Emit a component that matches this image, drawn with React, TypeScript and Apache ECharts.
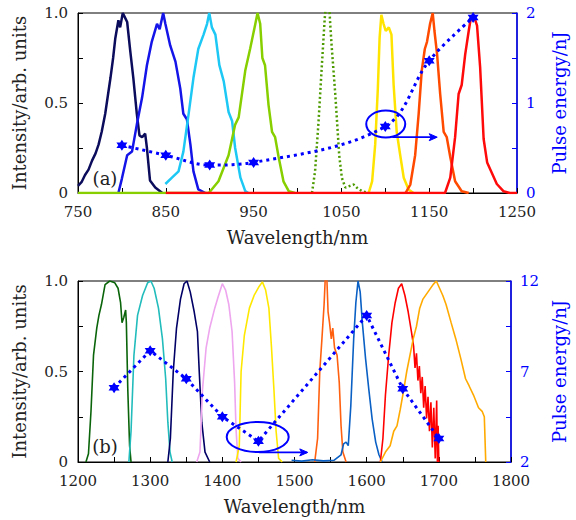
import React, { useEffect, useRef } from "react";
import * as echarts from "echarts";

// ---------- Panel (a) data ----------
const pulseWavelengthA = [800, 850, 900, 950, 1100, 1150, 1200];
const pulseEnergyA = [0.53, 0.42, 0.31, 0.34, 0.74, 1.47, 1.95];

const spec800 = [
  [750, 0.04], [754, 0.06], [758, 0.1], [762, 0.13], [766, 0.18], [770, 0.22], [773.5, 0.27], [777, 0.34],
  [781, 0.44], [784, 0.54], [787, 0.64], [790, 0.75], [792.5, 0.86], [796, 0.96], [798, 0.92],
  [801, 1.0], [803, 0.98], [806, 0.95], [809.5, 0.79], [813, 0.64], [817, 0.44], [820, 0.32],
  [823, 0.31], [826.5, 0.33], [828.5, 0.25], [832, 0.07], [838, 0.03], [846, 0],
];
const spec850 = [
  [796, 0], [800, 0.08], [806, 0.21], [811.5, 0.23], [817, 0.38], [823, 0.53], [828.5, 0.71],
  [834, 0.84], [840, 0.94], [843, 0.91], [847, 1.0], [849.5, 0.94], [855, 0.82], [861, 0.73],
  [866.5, 0.58], [870, 0.44], [874, 0.41], [878, 0.27], [881.5, 0.12], [887, 0.02], [895, 0],
];
const spec900 = [
  [849.5, 0.05], [857, 0.085], [864.5, 0.12], [870, 0.23], [876, 0.44], [881.5, 0.64], [887, 0.8],
  [893, 0.88], [897, 0.94], [899.5, 1.0], [902.5, 0.92], [906.5, 0.88], [911, 0.71], [916, 0.62],
  [921.5, 0.45], [925.5, 0.4], [929, 0.25], [935, 0.085], [940.5, 0.01], [944, 0],
];
const spec950 = [
  [750, 0], [899, 0], [910, 0.065], [921.5, 0.21], [929, 0.38], [933, 0.42], [940.5, 0.68],
  [946, 0.8], [952, 0.94], [954.5, 1.0], [957.5, 0.94], [960, 0.75], [963, 0.71], [967, 0.49],
  [971, 0.34], [974.5, 0.31], [978.5, 0.2], [984, 0.065], [990, 0.01], [997, 0],
];
const spec1035 = [
  [1016.5, 0], [1020, 0.12], [1024, 0.4], [1028, 0.73], [1031, 0.97], [1032.5, 1.05], [1034, 1.1],
  [1036, 1.05], [1037.5, 0.92], [1039, 0.81], [1041, 0.68], [1043, 0.55], [1045, 0.4], [1047.5, 0.21],
  [1050.5, 0.085], [1054.5, 0.03], [1060, 0.04], [1064, 0.047], [1067.5, 0.03], [1073.5, 0.01], [1081, 0],
];
const spec1100 = [
  [1081, 0], [1085, 0.065], [1088.5, 0.27], [1091.5, 0.58], [1093.5, 0.86], [1095.5, 0.99], [1098, 0.94],
  [1100.5, 0.9], [1104, 0.92], [1107, 0.88], [1109.5, 0.6], [1113, 0.34], [1117, 0.21], [1121, 0.085],
  [1126.5, 0.02], [1132, 0],
];
const spec1150 = [
  [1123, 0], [1128.5, 0.047], [1134, 0.21], [1138, 0.44], [1141.5, 0.68], [1145, 0.8], [1147.5, 0.84],
  [1151, 0.94], [1154, 1.0], [1156, 0.9], [1159, 0.77], [1162.5, 0.55], [1166.5, 0.34], [1170, 0.31],
  [1174, 0.2], [1179.5, 0.065], [1187, 0.01], [1195, 0],
];
const spec1200 = [
  [850, 0], [1168, 0], [1174, 0.085], [1179.5, 0.31], [1183.5, 0.55], [1187, 0.6], [1191, 0.77],
  [1195, 0.9], [1197, 0.96], [1200.5, 0.99], [1204.5, 0.93], [1208, 0.7], [1212, 0.3], [1216, 0.17],
  [1221.5, 0.11], [1227, 0.05], [1234.5, 0.01], [1242, 0], [1250, 0],
];

// ---------- Panel (b) data ----------
const pulseWavelengthB = [1250, 1300, 1350, 1400, 1450, 1600, 1650, 1700];
const pulseEnergyB = [6.1, 8.15, 6.6, 4.5, 3.15, 10.1, 6.05, 3.3];

const spec1250 = [
  [1211, 0], [1214.5, 0.046], [1218, 0.28], [1221.5, 0.59], [1226, 0.74], [1229, 0.81], [1232.5, 0.87],
  [1237.5, 0.98], [1244, 1.0], [1251, 0.99], [1255.5, 0.96], [1259, 0.88], [1261, 0.77], [1263.5, 0.8],
  [1266, 0.84], [1267, 0.77], [1269, 0.4], [1271.5, 0.09], [1273.5, 0],
];
const spec1300 = [
  [1270.5, 0], [1273.5, 0.17], [1277.5, 0.59], [1282.5, 0.81], [1289.5, 0.92], [1296.5, 0.99], [1301, 1.0],
  [1305.5, 0.96], [1311.5, 0.85], [1317, 0.68], [1321.5, 0.46], [1324.5, 0.22], [1327.5, 0.055], [1330.5, 0],
];
const spec1350 = [
  [1324.5, 0], [1328, 0.13], [1332, 0.5], [1336.5, 0.74], [1342, 0.9], [1347, 0.985], [1351, 1.0],
  [1355.5, 0.94], [1361, 0.83], [1365.5, 0.72], [1368, 0.5], [1371.5, 0.22], [1376, 0.055], [1382.5, 0],
];
const spec1400 = [
  [1364.5, 0], [1369, 0.055], [1372.5, 0.4], [1377.5, 0.63], [1382.5, 0.74], [1389.5, 0.85], [1394, 0.91],
  [1400, 0.985], [1404.5, 0.95], [1409, 0.87], [1413.5, 0.72], [1417, 0.44], [1419, 0.18], [1421.5, 0.02], [1426, 0],
];
const spec1450 = [
  [1419, 0], [1423.5, 0.09], [1426, 0.5], [1430.5, 0.7], [1437.5, 0.85], [1444, 0.92], [1451, 0.97],
  [1455.5, 0.995], [1460, 0.95], [1464.5, 0.85], [1468, 0.64], [1471.5, 0.4], [1474.5, 0.17], [1478, 0.02], [1483, 0],
];
const spec1545 = [
  [1528, 0], [1532, 0.13], [1535, 0.5], [1538, 0.68], [1541, 0.87], [1543, 1.05], [1544.5, 1.05],
  [1546.5, 0.83], [1548.5, 0.77], [1551, 0.68], [1553, 0.74], [1555.5, 0.63], [1559, 0.59], [1562, 0.44],
  [1564.5, 0.2], [1567, 0.055], [1571.5, 0],
];
const spec1590 = [
  [1496, 0.01], [1510, 0.005], [1525, 0.012], [1540, 0.006], [1555, 0.01], [1564.5, 0.04], [1568, 0.1],
  [1571.5, 0.11], [1574.5, 0.09], [1578, 0.31], [1582, 0.68], [1585, 0.88], [1588, 1.0], [1591, 0.94],
  [1594, 0.77], [1598.5, 0.57], [1603, 0.4], [1607.5, 0.24], [1612.5, 0.11], [1617, 0.04], [1621.5, 0],
];
const spec1650 = [
  [1619, 0], [1622.5, 0.13], [1626, 0.37], [1630.5, 0.59], [1635, 0.77], [1639.5, 0.88], [1644, 0.96],
  [1648.5, 0.985], [1653, 0.92], [1657.5, 0.83], [1662, 0.72], [1665, 0.64], [1667, 0.52], [1669, 0.6],
  [1671, 0.45], [1673, 0.53], [1675, 0.38], [1677, 0.47], [1679, 0.3], [1681, 0.42], [1683, 0.24],
  [1685, 0.36], [1687, 0.17], [1689, 0.33], [1691, 0.08], [1693, 0.3], [1695, 0.02], [1697, 0.34],
  [1698, 0], [1699, 0.2], [1700, 0],
];
const spec1700 = [
  [1619, 0], [1626, 0.055], [1632.5, 0.09], [1637.5, 0.17], [1642, 0.2], [1646.5, 0.29], [1651, 0.39],
  [1655.5, 0.5], [1660, 0.59], [1664.5, 0.68], [1669, 0.75], [1673.5, 0.85], [1678, 0.9], [1685, 0.94],
  [1692, 0.98], [1696.5, 1.0], [1701, 0.96], [1705.5, 0.92], [1710, 0.87], [1717, 0.77], [1723.5, 0.68],
  [1730.5, 0.57], [1737, 0.46], [1742, 0.42], [1748, 0.37], [1755, 0.3], [1760, 0.28], [1763, 0.25], [1765, 0],
];

const spectraA = [
  { data: spec800, color: "#0c0c5c", dotted: false },
  { data: spec850, color: "#1414e8", dotted: false },
  { data: spec900, color: "#1ec8f5", dotted: false },
  { data: spec950, color: "#88cf00", dotted: false },
  { data: spec1035, color: "#4c9a00", dotted: true },
  { data: spec1100, color: "#ffe400", dotted: false },
  { data: spec1150, color: "#ff4a00", dotted: false },
  { data: spec1200, color: "#ff0a0a", dotted: false },
];
const spectraB = [
  { data: spec1250, color: "#0a640a" },
  { data: spec1300, color: "#22bcbc" },
  { data: spec1350, color: "#000066" },
  { data: spec1400, color: "#eea6ee" },
  { data: spec1450, color: "#ffe800" },
  { data: spec1545, color: "#ff6010" },
  { data: spec1590, color: "#0a60c4" },
  { data: spec1650, color: "#ff0000" },
  { data: spec1700, color: "#ffaa00" },
];

// annotation positions (data units: wavelength, intensity)
const ellipseA = { c: [1100.5, 0.383], rx: 19.5, ry: 13.5 };
const arrowA = { from: [1108, 0.31], to: [1158, 0.31] };
const ellipseB = { c: [1449, 0.138], rx: 31, ry: 15 };
const arrowB = { from: [1451, 0.053], to: [1517, 0.053] };

const FONT = "'DejaVu Serif', serif";
const BLUE = "#0000ff";
const STAR =
  "path://M0,-10L2.9,-5L8.66,-5L5.77,0L8.66,5L2.9,5L0,10L-2.9,5L-8.66,5L-5.77,0L-8.66,-5L-2.9,-5Z";

function xAxisCfg(grid: number, min: number, max: number) {
  return {
    type: "value",
    gridIndex: grid,
    min,
    max,
    interval: 50,
    axisLine: { show: true, onZero: false, lineStyle: { color: "#000", width: 1 } },
    axisTick: { show: true, inside: true, length: 5, lineStyle: { color: "#000" } },
    axisLabel: {
      color: "#222",
      fontSize: 15,
      lineHeight: 14,
      fontFamily: FONT,
      margin: 12,
      formatter: (v: number) => ((v - min) % 100 === 0 ? String(v) : ""),
    },
    splitLine: { show: false },
    name: "Wavelength/nm",
    nameLocation: "middle",
    nameGap: 35,
    nameTextStyle: { fontSize: 18, fontFamily: FONT, color: "#222" },
  };
}

function yLeftCfg(grid: number) {
  return {
    type: "value",
    gridIndex: grid,
    position: "left",
    min: 0,
    max: 1,
    interval: 0.25,
    axisLine: { show: true, onZero: false, lineStyle: { color: "#000", width: 1 } },
    axisTick: { show: true, inside: true, length: 5, lineStyle: { color: "#000" } },
    axisLabel: {
      color: "#222",
      fontSize: 15,
      lineHeight: 14,
      fontFamily: FONT,
      margin: 10,
      formatter: (v: number) => (v === 0 ? "0" : v === 0.5 ? "0.5" : v === 1 ? "1.0" : ""),
    },
    splitLine: { show: false },
    name: "Intensity/arb. units",
    nameLocation: "middle",
    nameRotate: 90,
    nameGap: 50,
    nameTextStyle: { fontSize: 18, fontFamily: FONT, color: "#222" },
  };
}

function yRightCfg(grid: number, min: number, max: number, interval: number, labels: number[]) {
  return {
    type: "value",
    gridIndex: grid,
    position: "right",
    min,
    max,
    interval,
    axisLine: { show: true, onZero: false, lineStyle: { color: BLUE, width: 1.5 } },
    axisTick: { show: true, inside: true, length: 5, lineStyle: { color: BLUE } },
    axisLabel: {
      color: BLUE,
      fontSize: 15,
      lineHeight: 14,
      fontFamily: FONT,
      margin: 9,
      formatter: (v: number) => (labels.some((l) => Math.abs(l - v) < 1e-6) ? String(v) : ""),
    },
    splitLine: { show: false },
    name: "Pulse energy/nJ",
    nameLocation: "middle",
    nameRotate: 90,
    nameGap: 33,
    nameTextStyle: { fontSize: 18, fontFamily: FONT, color: BLUE },
  };
}

export default function App() {
  const ref = useRef<HTMLDivElement>(null);

  useEffect(() => {
    if (!ref.current) return;
    const chart = echarts.init(ref.current, null, { renderer: "svg" });

    const series: any[] = [];
    spectraA.forEach((s) =>
      series.push({
        type: "line",
        xAxisIndex: 0,
        yAxisIndex: 0,
        data: s.data,
        showSymbol: false,
        clip: true,
        lineStyle: { color: s.color, width: 2.5, type: s.dotted ? [2, 2.5] : "solid" },
        z: 2,
      })
    );
    spectraB.forEach((s) =>
      series.push({
        type: "line",
        xAxisIndex: 1,
        yAxisIndex: 2,
        data: s.data,
        showSymbol: false,
        clip: true,
        lineStyle: { color: s.color, width: 1.6 },
        z: 2,
      })
    );
    series.push({
      type: "line",
      xAxisIndex: 0,
      yAxisIndex: 1,
      data: pulseWavelengthA.map((w, i) => [w, pulseEnergyA[i]]),
      smooth: 0.35,
      symbol: STAR,
      symbolSize: 11,
      itemStyle: { color: BLUE },
      lineStyle: { color: BLUE, width: 3, type: [3, 4] },
      z: 5,
    });
    series.push({
      type: "line",
      xAxisIndex: 1,
      yAxisIndex: 3,
      data: pulseWavelengthB.map((w, i) => [w, pulseEnergyB[i]]),
      symbol: STAR,
      symbolSize: 11,
      itemStyle: { color: BLUE },
      lineStyle: { color: BLUE, width: 3, type: [3, 4] },
      z: 5,
    });

    chart.setOption({
      animation: false,
      backgroundColor: "#fff",
      grid: [
        { left: 78, top: 13, width: 439, height: 180, show: true, borderColor: "#000", borderWidth: 1, backgroundColor: "transparent" },
        { left: 78, top: 281, width: 439, height: 181, show: true, borderColor: "#000", borderWidth: 1, backgroundColor: "transparent" },
      ],
      xAxis: [xAxisCfg(0, 750, 1250), xAxisCfg(1, 1200, 1800)],
      yAxis: [
        yLeftCfg(0),
        yRightCfg(0, 0, 2, 0.5, [0, 1, 2]),
        yLeftCfg(1),
        yRightCfg(1, 2, 12, 2.5, [2, 7, 12]),
      ],
      series,
    });

    const px = (xi: number, yi: number, p: number[]) =>
      chart.convertToPixel({ xAxisIndex: xi, yAxisIndex: yi }, p) as number[];

    const annot = (xi: number, yi: number, el: any, ar: any) => {
      const c = px(xi, yi, el.c);
      const a0 = px(xi, yi, ar.from);
      const a1 = px(xi, yi, ar.to);
      return [
        {
          type: "ellipse",
          shape: { cx: c[0], cy: c[1], rx: el.rx, ry: el.ry },
          style: { fill: "none", stroke: BLUE, lineWidth: 2 },
          z: 10,
        },
        {
          type: "line",
          shape: { x1: a0[0], y1: a0[1], x2: a1[0], y2: a1[1] },
          style: { stroke: BLUE, lineWidth: 1.8 },
          z: 10,
        },
        {
          type: "polygon",
          shape: { points: [[a1[0] + 1, a1[1]], [a1[0] - 7, a1[1] - 3.5], [a1[0] - 5, a1[1]], [a1[0] - 7, a1[1] + 3.5]] },
          style: { fill: BLUE, stroke: BLUE, lineWidth: 1 },
          z: 10,
        },
      ];
    };

    chart.setOption({
      graphic: [
        ...annot(0, 0, ellipseA, arrowA),
        ...annot(1, 2, ellipseB, arrowB),
        {
          type: "text",
          x: 105,
          y: 178,
          style: { text: "(a)", fontSize: 18, fontFamily: FONT, fill: "#222", align: "center", verticalAlign: "middle" },
          z: 10,
        },
        {
          type: "text",
          x: 105,
          y: 446,
          style: { text: "(b)", fontSize: 18, fontFamily: FONT, fill: "#222", align: "center", verticalAlign: "middle" },
          z: 10,
        },
      ],
    });

    return () => chart.dispose();
  }, []);

  return <div ref={ref} style={{ width: 576, height: 520, position: "absolute", left: 0, top: 0 }} />;
}
